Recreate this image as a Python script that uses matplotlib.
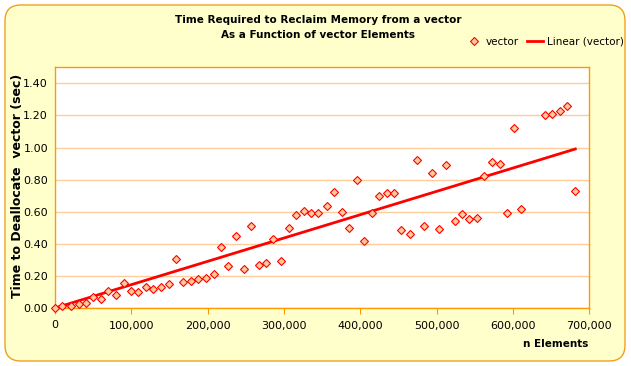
import matplotlib
matplotlib.use("Agg")
import matplotlib.pyplot as plt
from matplotlib.patches import FancyBboxPatch
from matplotlib.ticker import FuncFormatter, MultipleLocator
import numpy as np

# vector size (elements) and time to deallocate (sec)
n_elements = [0, 9560, 20570, 31050, 40220, 50180, 59870, 69430, 79520, 90000,
              99170, 109130, 119220, 128780, 139260, 148960, 158520, 168090, 177780, 187740,
              198220, 207910, 217870, 227040, 237130, 248000, 257170, 267260, 276820, 286000,
              296080, 306960, 316130, 326220, 336040, 345210, 355950, 365920, 375610, 385170,
              395260, 404430, 414910, 424870, 434560, 444120, 453290, 465090, 473870, 483820,
              493520, 503470, 512640, 523650, 533600, 542780, 552860, 562030, 572910, 583000,
              592560, 601740, 610910, 641950, 651520, 661210, 670780, 681650]
seconds = [0.00, 0.01, 0.01, 0.025, 0.03, 0.07, 0.055, 0.105, 0.083, 0.154,
           0.108, 0.102, 0.129, 0.117, 0.129, 0.148, 0.303, 0.159, 0.17, 0.18,
           0.185, 0.21, 0.38, 0.26, 0.45, 0.24, 0.51, 0.27, 0.28, 0.43,
           0.29, 0.50, 0.58, 0.605, 0.59, 0.59, 0.635, 0.725, 0.60, 0.50,
           0.80, 0.42, 0.59, 0.695, 0.715, 0.715, 0.485, 0.46, 0.925, 0.51,
           0.84, 0.495, 0.89, 0.545, 0.585, 0.555, 0.56, 0.825, 0.91, 0.90,
           0.595, 1.12, 0.62, 1.20, 1.21, 1.225, 1.26, 0.73]

x = np.array(n_elements, dtype=float)
y = np.array(seconds)

# linear trendline, intercept set to 0
slope = (x * y).sum() / (x * x).sum()
xfit = np.array([x.min(), x.max()])
yfit = slope * xfit

W, H = 631, 366
fig = plt.figure(figsize=(W / 100, H / 100), dpi=100)
fig.patch.set_facecolor("white")

# rounded yellow chart area
bg = FancyBboxPatch((5 / W, 5 / H), 620 / W, 356 / H,
                    boxstyle="round,pad=0,rounding_size=0.025",
                    transform=fig.transFigure, facecolor="#FFFFCC",
                    edgecolor="#F0A020", linewidth=1.0, mutation_aspect=W / H,
                    zorder=-10)
fig.patches.append(bg)

ax = fig.add_axes([55 / W, 1 - 308 / H, (589.3 - 55) / W, (308 - 67.3) / H])
ax.set_facecolor("white")

ax.plot(xfit, yfit, color="red", lw=2.0, label="Linear (vector)", zorder=3)
ax.plot(x, y, linestyle="none", marker="D", ms=4.3, mfc="#FFCC99", mec="red",
        mew=0.8, label="vector", zorder=4, clip_on=False)

ax.set_xlim(0, 700000)
ax.set_ylim(0, 1.5)
ax.xaxis.set_major_locator(MultipleLocator(100000))
ax.yaxis.set_major_locator(MultipleLocator(0.2))
ax.xaxis.set_major_formatter(FuncFormatter(lambda v, p: f"{int(v):,}"))
ax.yaxis.set_major_formatter(FuncFormatter(lambda v, p: f"{v:.2f}"))
ax.grid(axis="y", color="#FFCC99", lw=1.0)
ax.set_axisbelow(True)
for s in ax.spines.values():
    s.set_color("#FF9900")
    s.set_linewidth(1.0)
ax.tick_params(axis="x", direction="out", length=4, color="#FF9900", labelsize=8, pad=5)
ax.tick_params(axis="y", length=0, labelsize=8, pad=5)

fig.text(318 / W, 1 - 20 / H, "Time Required to Reclaim Memory from a vector",
         ha="center", va="center", fontsize=7.5, fontweight="bold")
fig.text(318 / W, 1 - 35 / H, "As a Function of vector Elements",
         ha="center", va="center", fontsize=7.5, fontweight="bold")
fig.text(18 / W, 1 - 186 / H, "Time to Deallocate  vector (sec)", rotation=90,
         ha="center", va="center", fontsize=9, fontweight="bold")
fig.text(556 / W, 1 - 344 / H, "n Elements", ha="center", va="center",
         fontsize=7.5, fontweight="bold")

h, l = ax.get_legend_handles_labels()
fig.legend(h[::-1], l[::-1], loc="center right", bbox_to_anchor=(628 / W, 1 - 42 / H),
           ncol=2, frameon=False, fontsize=7.5, handlelength=1.5, columnspacing=0.8,
           handletextpad=0.4, borderaxespad=0)

fig.savefig("out.png", dpi=100, facecolor=fig.get_facecolor())
